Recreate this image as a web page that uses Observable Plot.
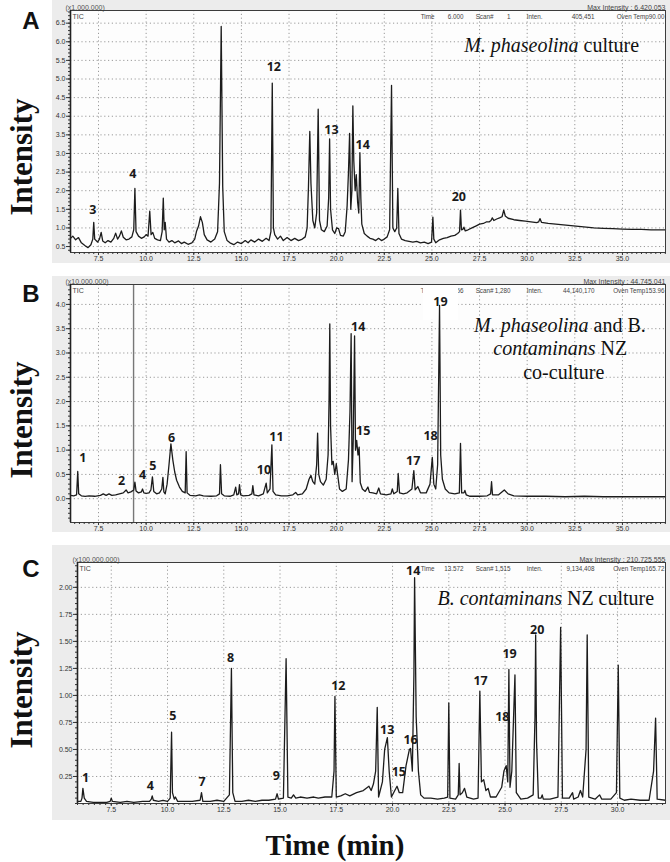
<!DOCTYPE html>
<html><head><meta charset="utf-8">
<script src="https://cdn.jsdelivr.net/npm/d3@7"></script>
<script src="https://cdn.jsdelivr.net/npm/@observablehq/plot@0.6"></script>
<style>
body{margin:0;background:#fff;}
#root{position:relative;width:670px;height:862px;overflow:hidden;background:#fff;}
.panel{position:absolute;left:52px;}
.letter{position:absolute;font-family:"Liberation Sans",Arial,sans-serif;font-weight:bold;font-size:24px;color:#111;transform:translate(-50%,-50%);}
.ylab{position:absolute;font-family:"Liberation Serif","Times New Roman",serif;font-weight:bold;font-size:31px;color:#111;transform:translate(-50%,-50%) rotate(-90deg);white-space:nowrap;}
.xlab{position:absolute;font-family:"Liberation Serif","Times New Roman",serif;font-weight:bold;font-size:29px;color:#111;transform:translate(-50%,-50%);white-space:nowrap;}
</style></head><body><div id="root"></div><script>
// ---------- data ----------
const ticksXAB = [7.5, 10, 12.5, 15, 17.5, 20, 22.5, 25, 27.5, 30, 32.5, 35];
const ticksXC = [7.5, 10, 12.5, 15, 17.5, 20, 22.5, 25, 27.5, 30];
const ticksYA = [0.5, 1, 1.5, 2, 2.5, 3, 3.5, 4, 4.5, 5, 5.5, 6, 6.5];
const ticksYB = [0, 0.5, 1, 1.5, 2, 2.5, 3, 3.5, 4];
const ticksYC = [0.25, 0.5, 0.75, 1, 1.25, 1.5, 1.75, 2];

// Panel A: M. phaseolina culture (x1,000,000)
const traceA = [[6.03,0.72],[6.15,0.78],[6.3,0.68],[6.45,0.74],[6.6,0.6],[6.8,0.52],[6.95,0.47],[7.1,0.55],[7.2,0.7],[7.25,1.15],[7.3,0.7],[7.45,0.62],[7.55,0.7],[7.64,0.88],[7.72,0.65],[7.85,0.6],[8.0,0.66],[8.15,0.62],[8.3,0.72],[8.4,0.86],[8.5,0.7],[8.6,0.78],[8.7,0.92],[8.8,0.75],[8.95,0.68],[9.1,0.7],[9.25,0.76],[9.35,0.95],[9.41,2.06],[9.47,0.9],[9.6,0.78],[9.75,0.72],[9.9,0.76],[10.0,0.82],[10.1,0.78],[10.19,1.45],[10.26,0.82],[10.35,0.88],[10.45,0.72],[10.6,0.68],[10.75,0.66],[10.84,0.9],[10.9,1.8],[10.95,0.95],[11.0,1.15],[11.07,0.7],[11.2,0.62],[11.35,0.66],[11.5,0.6],[11.7,0.65],[11.85,0.58],[12.0,0.62],[12.2,0.56],[12.4,0.6],[12.55,0.7],[12.65,0.92],[12.75,1.05],[12.85,1.3],[12.95,1.15],[13.05,0.82],[13.2,0.68],[13.4,0.62],[13.6,0.7],[13.75,0.9],[13.85,2.2],[13.94,6.41],[14.02,2.1],[14.1,0.9],[14.25,0.66],[14.4,0.6],[14.6,0.55],[14.8,0.62],[15.0,0.58],[15.2,0.66],[15.35,0.6],[15.5,0.68],[15.7,0.62],[15.9,0.7],[16.1,0.64],[16.3,0.72],[16.45,0.66],[16.55,0.9],[16.62,4.89],[16.68,1.0],[16.75,0.82],[16.9,0.7],[17.05,0.78],[17.2,0.66],[17.4,0.74],[17.6,0.66],[17.8,0.72],[18.0,0.66],[18.2,0.7],[18.35,0.76],[18.45,1.0],[18.52,2.1],[18.59,3.59],[18.65,2.2],[18.75,1.2],[18.85,1.0],[18.95,1.4],[19.03,4.19],[19.1,1.2],[19.2,0.95],[19.35,0.9],[19.5,1.05],[19.58,1.8],[19.63,3.39],[19.68,1.5],[19.78,0.95],[19.9,0.85],[20.0,1.0],[20.1,0.98],[20.2,0.8],[20.35,0.78],[20.45,0.9],[20.55,1.6],[20.62,2.5],[20.68,3.54],[20.74,1.5],[20.8,2.0],[20.85,4.28],[20.9,2.8],[20.97,2.0],[21.03,2.43],[21.1,1.7],[21.16,1.4],[21.22,3.02],[21.27,1.8],[21.32,1.1],[21.45,0.85],[21.6,0.78],[21.75,0.72],[21.9,0.7],[22.05,0.66],[22.2,0.72],[22.35,0.66],[22.5,0.7],[22.65,0.76],[22.78,0.95],[22.88,4.83],[22.95,1.0],[23.05,0.9],[23.15,1.0],[23.21,2.06],[23.27,0.85],[23.4,0.7],[23.6,0.66],[23.8,0.64],[24.0,0.62],[24.2,0.64],[24.4,0.6],[24.6,0.62],[24.8,0.58],[24.98,0.62],[25.05,1.29],[25.1,0.7],[25.2,0.6],[25.4,0.68],[25.6,0.72],[25.8,0.74],[26.0,0.78],[26.2,0.8],[26.35,0.85],[26.45,0.9],[26.5,1.48],[26.55,0.95],[26.62,0.96],[26.68,1.02],[26.75,0.92],[26.9,0.95],[27.1,1.0],[27.3,1.05],[27.5,1.1],[27.7,1.12],[27.85,1.16],[28.0,1.16],[28.1,1.2],[28.17,1.27],[28.25,1.2],[28.4,1.24],[28.55,1.27],[28.68,1.3],[28.77,1.48],[28.85,1.32],[29.0,1.26],[29.3,1.22],[29.6,1.2],[29.9,1.18],[30.2,1.16],[30.5,1.14],[30.6,1.16],[30.67,1.25],[30.75,1.15],[31.1,1.12],[31.5,1.1],[31.9,1.08],[32.3,1.06],[32.7,1.04],[33.1,1.02],[33.5,1.0],[34.0,0.99],[34.5,0.98],[35.0,0.97],[35.5,0.96],[36.0,0.96],[36.5,0.95],[37.0,0.95],[37.26,0.95]];
const labelsA = [["3",7.2,1.48],["4",9.3,2.45],["12",16.7,5.32],["13",19.73,3.62],["14",21.37,3.24],["20",26.41,1.82]];

// Panel B: co-culture (x10,000,000)
const traceB = [[6.03,0.07],[6.2,0.06],[6.35,0.08],[6.41,0.56],[6.46,0.1],[6.6,0.06],[6.8,0.05],[7.0,0.06],[7.3,0.05],[7.6,0.07],[7.75,0.1],[7.9,0.07],[8.05,0.1],[8.2,0.07],[8.4,0.08],[8.6,0.1],[8.8,0.12],[8.95,0.18],[9.05,0.12],[9.2,0.14],[9.35,0.18],[9.41,0.34],[9.47,0.16],[9.6,0.12],[9.75,0.14],[9.81,0.2],[9.88,0.12],[10.0,0.11],[10.15,0.12],[10.25,0.18],[10.33,0.45],[10.4,0.15],[10.55,0.1],[10.7,0.12],[10.82,0.2],[10.88,0.44],[10.93,0.14],[11.0,0.1],[11.1,0.3],[11.2,0.7],[11.3,1.13],[11.4,0.8],[11.5,0.55],[11.6,0.38],[11.75,0.24],[11.9,0.15],[12.05,0.12],[12.1,0.97],[12.15,0.12],[12.3,0.07],[12.6,0.06],[12.8,0.08],[13.0,0.06],[13.4,0.05],[13.7,0.06],[13.85,0.1],[13.9,0.7],[13.96,0.1],[14.1,0.06],[14.4,0.05],[14.6,0.08],[14.7,0.24],[14.76,0.08],[14.85,0.1],[14.9,0.29],[14.96,0.08],[15.1,0.06],[15.4,0.07],[15.55,0.1],[15.6,0.27],[15.66,0.08],[15.9,0.06],[16.15,0.1],[16.3,0.32],[16.36,0.12],[16.5,0.2],[16.6,1.11],[16.66,0.15],[16.8,0.08],[17.1,0.06],[17.4,0.06],[17.7,0.08],[17.85,0.13],[17.95,0.08],[18.2,0.1],[18.4,0.2],[18.55,0.4],[18.65,0.48],[18.75,0.35],[18.85,0.3],[18.95,0.7],[19.0,1.35],[19.06,0.5],[19.15,0.35],[19.3,0.28],[19.45,0.4],[19.55,0.9],[19.6,2.0],[19.64,3.6],[19.68,1.5],[19.75,0.7],[19.82,0.77],[19.9,0.5],[19.98,0.72],[20.05,0.5],[20.15,0.2],[20.3,0.15],[20.5,0.2],[20.62,0.8],[20.7,1.8],[20.76,3.4],[20.81,0.35],[20.87,1.2],[20.94,3.35],[20.99,1.0],[21.05,1.2],[21.12,0.9],[21.18,1.06],[21.24,0.33],[21.35,0.2],[21.5,0.15],[21.64,0.24],[21.72,0.13],[21.9,0.12],[22.1,0.1],[22.21,0.22],[22.3,0.1],[22.6,0.08],[22.85,0.1],[22.92,0.2],[23.0,0.1],[23.18,0.15],[23.23,0.52],[23.3,0.12],[23.5,0.1],[23.7,0.12],[23.95,0.2],[24.05,0.58],[24.12,0.18],[24.26,0.25],[24.4,0.12],[24.7,0.12],[24.9,0.3],[25.02,0.85],[25.1,0.3],[25.2,0.2],[25.3,0.7],[25.4,3.98],[25.46,0.9],[25.55,0.4],[25.7,0.2],[25.9,0.12],[26.2,0.1],[26.44,0.12],[26.5,1.14],[26.56,0.12],[26.68,0.12],[26.73,0.17],[26.8,0.08],[27.0,0.05],[27.5,0.05],[27.9,0.06],[28.08,0.1],[28.13,0.35],[28.18,0.08],[28.5,0.08],[28.8,0.18],[29.0,0.1],[29.3,0.06],[30.0,0.05],[31.0,0.05],[32.0,0.04],[33.0,0.05],[34.0,0.04],[35.0,0.04],[36.0,0.04],[37.26,0.04]];
const labelsB = [["1",6.68,0.84],["2",8.71,0.37],["4",9.81,0.49],["5",10.35,0.67],["6",11.33,1.26],["10",16.18,0.6],["11",16.84,1.28],["14",21.13,3.53],["15",21.39,1.4],["17",24.02,0.77],["18",24.93,1.3],["19",25.45,4.05]];
const cursorB = [9.34];

// Panel C: B. contaminans NZ culture (x100,000,000)
const traceC = [[6.0,0.02],[6.15,0.02],[6.2,0.05],[6.24,0.14],[6.3,0.05],[6.4,0.02],[6.7,0.01],[7.0,0.01],[7.3,0.01],[7.45,0.02],[7.5,0.05],[7.55,0.02],[7.9,0.01],[8.2,0.02],[8.5,0.01],[8.9,0.02],[9.2,0.02],[9.28,0.04],[9.32,0.07],[9.37,0.03],[9.6,0.02],[9.8,0.03],[10.0,0.02],[10.12,0.05],[10.18,0.66],[10.22,0.1],[10.3,0.04],[10.35,0.06],[10.45,0.02],[10.8,0.02],[11.1,0.02],[11.45,0.03],[11.51,0.1],[11.57,0.02],[11.9,0.02],[12.2,0.03],[12.5,0.02],[12.75,0.08],[12.84,1.25],[12.9,0.1],[13.0,0.02],[13.3,0.02],[13.6,0.03],[13.9,0.02],[14.2,0.03],[14.5,0.03],[14.8,0.04],[14.87,0.09],[14.93,0.04],[15.15,0.05],[15.27,1.34],[15.35,0.06],[15.5,0.05],[15.6,0.08],[15.7,0.05],[15.9,0.06],[16.2,0.05],[16.5,0.06],[16.7,0.05],[17.0,0.06],[17.3,0.06],[17.4,0.3],[17.44,0.99],[17.5,0.06],[17.7,0.07],[17.9,0.09],[18.1,0.07],[18.4,0.1],[18.7,0.12],[18.95,0.16],[19.05,0.12],[19.15,0.18],[19.25,0.3],[19.32,0.89],[19.38,0.06],[19.55,0.2],[19.65,0.5],[19.77,0.61],[19.85,0.3],[19.95,0.06],[20.1,0.12],[20.2,0.16],[20.3,0.1],[20.45,0.1],[20.6,0.35],[20.75,0.5],[20.8,0.51],[20.88,0.3],[20.95,1.2],[20.98,2.09],[21.05,0.8],[21.15,0.3],[21.25,0.08],[21.4,0.05],[21.7,0.05],[22.0,0.04],[22.3,0.05],[22.45,0.06],[22.5,0.93],[22.55,0.05],[22.8,0.04],[22.92,0.08],[22.96,0.37],[23.0,0.08],[23.1,0.1],[23.2,0.14],[23.3,0.06],[23.6,0.04],[23.8,0.05],[23.88,1.04],[23.95,0.2],[24.05,0.22],[24.15,0.12],[24.25,0.14],[24.35,0.06],[24.6,0.06],[24.85,0.15],[24.95,0.3],[25.05,0.35],[25.12,0.2],[25.17,1.24],[25.22,0.15],[25.3,0.3],[25.44,1.19],[25.5,0.1],[25.7,0.04],[26.0,0.05],[26.25,0.08],[26.33,0.8],[26.36,1.56],[26.4,0.57],[26.48,0.05],[26.6,0.05],[26.65,0.08],[26.7,0.04],[27.0,0.04],[27.35,0.06],[27.47,1.63],[27.55,0.05],[27.85,0.05],[28.0,0.1],[28.05,0.04],[28.25,0.06],[28.35,0.12],[28.45,0.06],[28.6,0.5],[28.65,1.56],[28.72,0.06],[29.0,0.04],[29.2,0.08],[29.3,0.04],[29.7,0.04],[29.95,0.1],[30.03,1.28],[30.1,0.05],[30.3,0.03],[30.6,0.04],[31.0,0.03],[31.4,0.03],[31.6,0.3],[31.69,0.79],[31.76,0.04],[32.13,0.03]];
const labelsC = [["1",6.36,0.24],["4",9.24,0.16],["5",10.24,0.81],["7",11.54,0.2],["8",12.8,1.35],["9",14.84,0.25],["12",17.59,1.09],["13",19.76,0.68],["14",20.92,2.15],["15",20.28,0.29],["16",20.8,0.59],["17",23.91,1.13],["18",24.88,0.8],["19",25.2,1.38],["20",26.43,1.61]];

// annotation text (sample names), split into italic / roman parts: [text, t, v, italic, anchor]
const notesA = [["M. phaseolina",32.83,5.9,true,"end"],["culture",32.83,5.9,false,"start"]];
const notesB = [["M. phaseolina",33.35,3.57,true,"end"],["and B.",33.35,3.57,false,"start"],["contaminans",33.72,3.09,true,"end"],["NZ",33.72,3.09,false,"start"],["co-culture",31.92,2.6,false,"middle"]];
const notesC = [["B. contaminans",27.64,1.9,true,"end"],["NZ culture",27.64,1.9,false,"start"]];

// instrument header text
const scaleA = "(x1,000,000)", maxA = "Max Intensity : 6,420,053";
const scaleB = "(x10,000,000)", maxB = "Max Intensity : 44,745,041";
const scaleC = "(x100,000,000)", maxC = "Max Intensity : 210,725,555";
const statusA = ["Time", "6.000", "Scan#", "1", "Inten.", "405,451", "Oven Temp90.00"];
const statusB = ["Time", "19.556", "Scan#", "1,280", "Inten.", "44,140,170", "Oven Temp153.96"];
const statusC = ["Time", "13.572", "Scan#", "1,515", "Inten.", "9,134,408", "Oven Temp165.72"];

// ---------- drawing ----------
const root = document.getElementById("root");
const gridStyle = {stroke: "#8f8f8f", strokeOpacity: 1, strokeDasharray: "1.2,2.6", strokeWidth: 0.9};
const labelFont = {fontFamily: "'Open Sans', 'Liberation Sans', sans-serif", fontWeight: "bold", fontSize: 12.5, fill: "#1a1a1a"};
// right-edge offsets (px from the frame's right side) of the status-line columns
const statusCols = [-231, -202, -172, -155, -123, -71, -1];

function panel(cfg) {
  const data = cfg.trace.map(([t, v]) => ({t, v}));
  const labels = cfg.labels.map(([label, t, v]) => ({label, t, v}));
  const notes = cfg.notes.map(([text, t, v, italic, anchor]) => ({text, t, v, italic, anchor}));
  const [xmin, xmax] = cfg.xDomain;
  const [ymin, ymax] = cfg.yDomain;
  const minorX = d3.range(Math.ceil(xmin * 4) / 4, xmax, 0.25);
  const minorY = d3.range(Math.ceil(ymin / cfg.minorYStep) * cfg.minorYStep, ymax, cfg.minorYStep);
  const marks = [
    Plot.frame({fill: "#fdfdfd", stroke: null}),
    Plot.gridX({...gridStyle, ticks: cfg.xTicks}),
    Plot.gridY({...gridStyle, ticks: cfg.yTicks}),
    Plot.text([cfg.scale], {text: d => d, frameAnchor: "top-left", textAnchor: "start", dx: -5, dy: -5, fill: "#555"}),
    Plot.text(["TIC"], {text: d => d, frameAnchor: "top-left", textAnchor: "start", dx: 2, dy: 4, fill: "#444"}),
    Plot.text([cfg.max], {text: d => d, frameAnchor: "top-right", textAnchor: "end", dx: 0, dy: -5, fill: "#444"}),
    ...cfg.status.map((s, i) => Plot.text([s], {text: d => d, frameAnchor: "top-right", textAnchor: "end", dx: statusCols[i], dy: 4, fontSize: 6.3, fill: "#444"}))
  ];
  if (cfg.boxLabel) {
    marks.push(Plot.dot(labels.filter(d => d.label === cfg.boxLabel), {x: "t", y: "v", r: 20, symbol: "square", fill: "white", stroke: null}));
  }
  if (cfg.cursor) {
    marks.push(Plot.ruleX(cfg.cursor, {stroke: "#777", strokeWidth: 1.4}));
  }
  marks.push(
    Plot.line(data, {x: "t", y: "v", stroke: "#1c1c1c", strokeWidth: 1.3}),
    Plot.text(labels, {x: "t", y: "v", text: "label", ...labelFont}),
    Plot.text(notes.filter(d => d.italic), {x: "t", y: "v", text: "text", textAnchor: "end", dx: -2.5, fontFamily: "'Liberation Serif', 'Times New Roman', serif", fontStyle: "italic", fontSize: 20, fill: "#111"}),
    Plot.text(notes.filter(d => !d.italic && d.anchor === "start"), {x: "t", y: "v", text: "text", textAnchor: "start", dx: 2.5, fontFamily: "'Liberation Serif', 'Times New Roman', serif", fontSize: 20, fill: "#111"}),
    Plot.text(notes.filter(d => !d.italic && d.anchor === "middle"), {x: "t", y: "v", text: "text", textAnchor: "middle", fontFamily: "'Liberation Serif', 'Times New Roman', serif", fontSize: 20, fill: "#111"}),
    Plot.frame({stroke: "#3c3c3c", strokeWidth: 1}),
    Plot.axisX({ticks: cfg.xTicks, tickSize: 3, tickPadding: 1, tickFormat: d => d.toFixed(1), label: null, fill: "#333"}),
    Plot.axisX({ticks: minorX, tickSize: 2, tickFormat: () => "", label: null}),
    Plot.axisY({ticks: cfg.yTicks, tickSize: 4, tickPadding: 1, tickFormat: cfg.yFmt, label: null, fill: "#333"}),
    Plot.axisY({ticks: minorY, tickSize: 2, tickFormat: () => "", label: null}),
    Plot.ruleX([xmin], {stroke: "#222", strokeWidth: 1.6})
  );
  const svg = Plot.plot({
    width: 618, height: cfg.height,
    marginLeft: cfg.margin[3], marginRight: cfg.margin[1], marginTop: cfg.margin[0], marginBottom: cfg.margin[2],
    x: {domain: cfg.xDomain, axis: null},
    y: {domain: cfg.yDomain, axis: null},
    style: {background: "#ececec", fontFamily: "'Liberation Sans', Arial, sans-serif", fontSize: "7px", color: "#333", overflow: "visible"},
    marks
  });
  const div = document.createElement("div");
  div.className = "panel";
  div.style.top = cfg.top + "px";
  div.appendChild(svg);
  root.appendChild(div);
}

panel({trace: traceA, labels: labelsA, notes: notesA, scale: scaleA, max: maxA, status: statusA, xDomain: [6.03, 37.26], yDomain: [0.34, 6.84],
  xTicks: ticksXAB, yTicks: ticksYA, yFmt: d => d.toFixed(1), minorYStep: 0.1, top: 0, height: 263, margin: [10, 5, 11, 18]});
panel({trace: traceB, labels: labelsB, notes: notesB, scale: scaleB, max: maxB, status: statusB, xDomain: [6.03, 37.26], yDomain: [-0.49, 4.41],
  xTicks: ticksXAB, yTicks: ticksYB, yFmt: d => d.toFixed(1), minorYStep: 0.1, top: 276, height: 256, margin: [8, 5, 10, 18], cursor: cursorB, boxLabel: "19"});
panel({trace: traceC, labels: labelsC, notes: notesC, scale: scaleC, max: maxC, status: statusC, xDomain: [6.0, 32.13], yDomain: [0, 2.23],
  xTicks: ticksXC, yTicks: ticksYC, yFmt: d => d.toFixed(2), minorYStep: 0.05, top: 545, height: 275, margin: [17, 5, 17, 25]});

function addDiv(cls, text, x, y) {
  const d = document.createElement("div");
  d.className = cls; d.textContent = text;
  d.style.left = x + "px"; d.style.top = y + "px";
  root.appendChild(d);
}
addDiv("letter", "A", 31, 21);
addDiv("letter", "B", 31, 294);
addDiv("letter", "C", 31, 569);
addDiv("ylab", "Intensity", 22, 157);
addDiv("ylab", "Intensity", 22, 420);
addDiv("ylab", "Intensity", 22, 690);
addDiv("xlab", "Time (min)", 335, 845);
</script></body></html>
